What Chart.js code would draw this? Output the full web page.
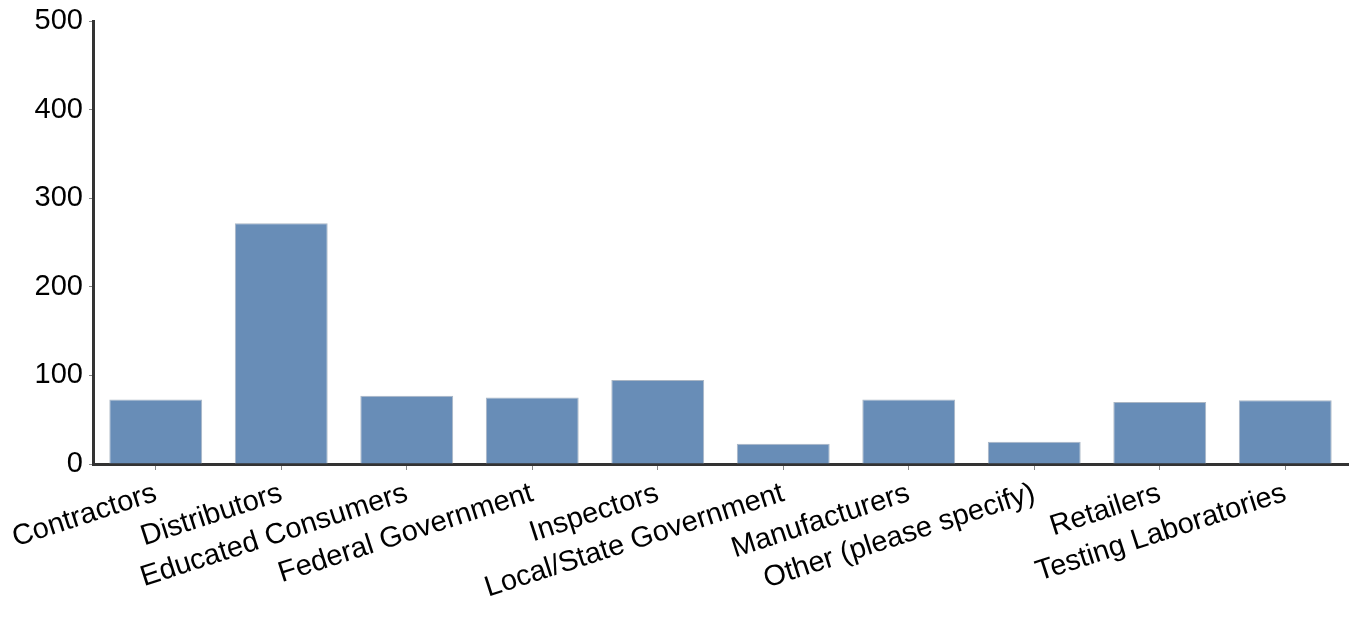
<!DOCTYPE html>
<html>
<head>
<meta charset="utf-8">
<script src="https://cdn.jsdelivr.net/npm/chart.js@4/dist/chart.umd.min.js"></script>
<style>
  html, body { margin: 0; padding: 0; background: #fff; }
  #wrap { width: 1353px; height: 618px; position: relative; }
</style>
</head>
<body>
<div id="wrap"><canvas id="c"></canvas></div>
<script>
const categories = [
  "Contractors",
  "Distributors",
  "Educated Consumers",
  "Federal Government",
  "Inspectors",
  "Local/State Government",
  "Manufacturers",
  "Other (please specify)",
  "Retailers",
  "Testing Laboratories"
];
const responses = [73, 272, 77, 75, 95, 23, 73, 25, 70, 72];
const yTicks = [0, 100, 200, 300, 400, 500];

const FONT = "'Liberation Sans', Arial, sans-serif";

new Chart(document.getElementById('c'), {
  type: 'bar',
  data: {
    labels: categories,
    datasets: [{
      data: responses,
      backgroundColor: '#688db7',
      borderColor: '#aab6c4',
      borderWidth: 1,
      borderSkipped: 'bottom',
      categoryPercentage: 1.0,
      barPercentage: 0.74
    }]
  },
  options: {
    responsive: true,
    maintainAspectRatio: false,
    animation: false,
    layout: { padding: { top: 0, right: 5, left: 0, bottom: 0 } },
    plugins: { legend: { display: false }, tooltip: { enabled: false } },
    scales: {
      x: {
        grid: { display: true, offset: false, drawOnChartArea: false, drawTicks: true, tickLength: 6, color: '#888', lineWidth: 1 },
        border: { display: true, color: '#333', width: 3 },
        ticks: {
          color: '#000',
          font: { family: FONT, size: 29 },
          minRotation: 18,
          maxRotation: 18,
          padding: 6,
          autoSkip: false
        },
        afterFit: (s) => { s.height = 154; }
      },
      y: {
        min: 0,
        max: 500,
        afterBuildTicks: (s) => { s.ticks = yTicks.map(v => ({ value: v })); },
        grid: { display: true, drawOnChartArea: false, drawTicks: true, tickLength: 4, color: '#888', lineWidth: 1 },
        border: { display: true, color: '#333', width: 3 },
        ticks: {
          color: '#000',
          font: { family: FONT, size: 29, lineHeight: 1.06 },
          padding: 6
        },
        afterFit: (s) => { s.width = 93; }
      }
    }
  }
});
</script>
</body>
</html>
